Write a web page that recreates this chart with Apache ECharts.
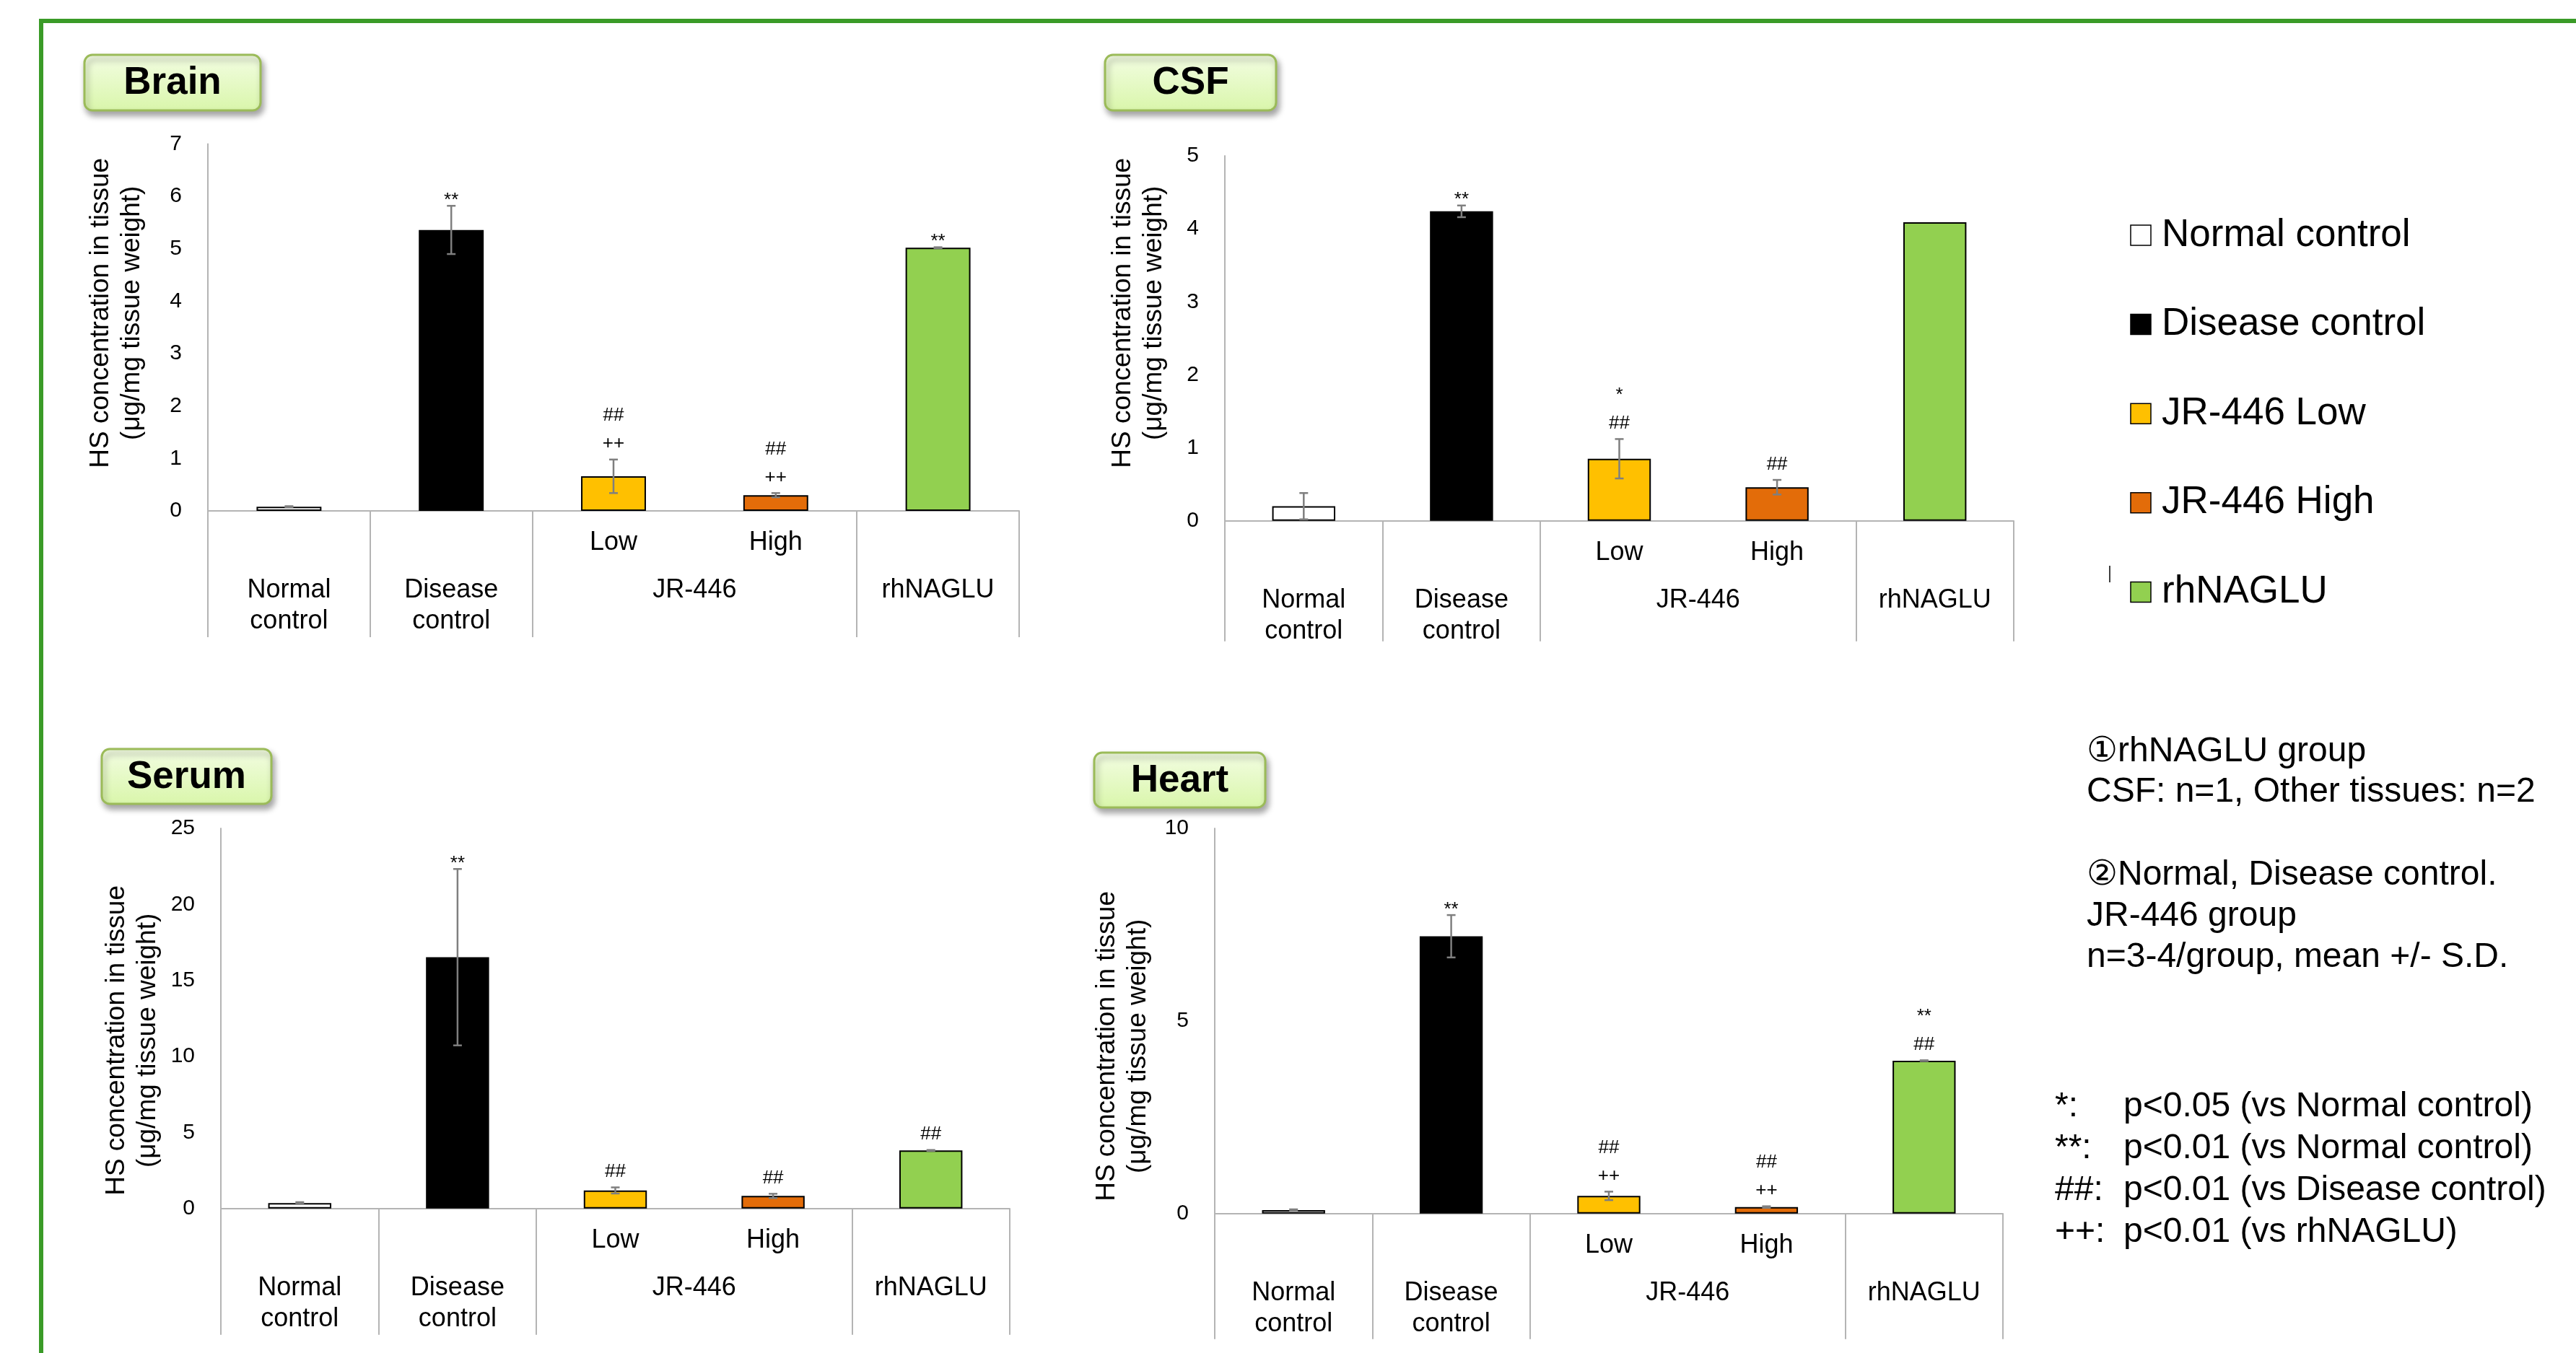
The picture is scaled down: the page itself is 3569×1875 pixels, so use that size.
<!DOCTYPE html>
<html><head><meta charset="utf-8">
<script src="https://cdn.jsdelivr.net/npm/echarts@6/dist/echarts.min.js"></script>
<style>html,body{margin:0;padding:0;background:#fff}#c{width:3569px;height:1875px}</style>
</head><body><div id="c"></div><script>
// ---------- DATA ----------
const categories = ['Normal control', 'Disease control', 'JR-446 Low', 'JR-446 High', 'rhNAGLU'];
const row1Labels = ['', '', 'Low', 'High', ''];
const groupLabels = ['Normal\ncontrol', 'Disease\ncontrol', 'JR-446', 'rhNAGLU'];
const groupSpans = [[0, 0], [1, 1], [2, 3], [4, 4]];
const barColors = ['#FFFFFF', '#000000', '#FFC000', '#E36C09', '#92D050'];

const brainMean = [0.08, 5.36, 0.66, 0.30, 5.02];
const brainSD   = [0.01, 0.46, 0.32, 0.04, 0.01];
const brainMarks = ['', '**', '##\n++', '##\n++', '**'];
const brainYTicks = [0, 1, 2, 3, 4, 5, 6, 7];

const csfMean = [0.20, 4.24, 0.85, 0.46, 4.09];
const csfSD   = [0.18, 0.08, 0.27, 0.10, 0];
const csfMarks = ['', '**', '*\n##', '##', ''];
const csfYTicks = [0, 1, 2, 3, 4, 5];

const serumMean = [0.36, 16.53, 1.19, 0.83, 3.82];
const serumSD   = [0.06, 5.80, 0.20, 0.14, 0.03];
const serumMarks = ['', '**', '##', '##', '##'];
const serumYTicks = [0, 5, 10, 15, 20, 25];

const heartMean = [0.09, 7.20, 0.46, 0.17, 3.97];
const heartSD   = [0.02, 0.55, 0.11, 0.02, 0.01];
const heartMarks = ['', '**', '##\n++', '##\n++', '**\n##'];
const heartYTicks = [0, 5, 10];

const yAxisName = 'HS concentration in tissue\n(\u03bcg/mg tissue weight)';
const legendNames = categories;
const notesTop = ['\u2460rhNAGLU group', 'CSF: n=1, Other tissues: n=2', '\u2461Normal, Disease control.', 'JR-446 group', 'n=3-4/group, mean +/- S.D.'];
const sigSymbols = ['*:', '**:', '##:', '++:'];
const sigTexts = ['p<0.05 (vs Normal control)', 'p<0.01 (vs Normal control)', 'p<0.01 (vs Disease control)', 'p<0.01 (vs rhNAGLU)'];

// ---------- LAYOUT ----------
const FONT = '"Liberation Sans", Arial, Helvetica, sans-serif';
const panels = [
  {title: 'Brain', mean: brainMean, sd: brainSD, marks: brainMarks, ticks: brainYTicks,
   grid: {left: 288, top: 199.5, width: 1124, height: 508.5}, sepLen: 175, nameGap: 84, namePad: [0, 0, 0, 40],
   box: {x: 117, y: 76, w: 244, h: 77}},
  {title: 'CSF', mean: csfMean, sd: csfSD, marks: csfMarks, ticks: csfYTicks,
   grid: {left: 1697, top: 216, width: 1093, height: 505.7}, sepLen: 167, nameGap: 77, namePad: [0, 0, 0, 70],
   box: {x: 1531, y: 76, w: 237, h: 77}},
  {title: 'Serum', mean: serumMean, sd: serumSD, marks: serumMarks, ticks: serumYTicks,
   grid: {left: 306, top: 1148, width: 1093, height: 526.8}, sepLen: 175, nameGap: 80, namePad: [0, 61, 0, 0],
   box: {x: 141, y: 1038, w: 235, h: 76}},
  {title: 'Heart', mean: heartMean, sd: heartSD, marks: heartMarks, ticks: heartYTicks,
   grid: {left: 1683, top: 1148, width: 1092, height: 533.8}, sepLen: 174, nameGap: 85, namePad: [0, 70, 0, 0],
   box: {x: 1516, y: 1043, w: 237, h: 76}}
];

const groupCenters = groupSpans.map(s => (s[0] + s[1]) / 2);
const groupBounds = [groupSpans[0][0] - 0.5].concat(groupSpans.map(s => s[1] + 0.5));

const grids = [], xAxes = [], yAxes = [], series = [], graphics = [];

function errRender(p) {
  return function (params, api) {
    const i = api.value(0), m = api.value(1), s = api.value(2);
    const hi = api.coord([i, m + s]);
    const lo = api.coord([i, m - s]);
    const children = [];
    const cap = 6;
    const ls = {stroke: '#7f7f7f', lineWidth: 2.5};
    if (s > 0) {
      children.push({type: 'line', shape: {x1: hi[0], y1: hi[1], x2: lo[0], y2: lo[1]}, style: ls});
      children.push({type: 'line', shape: {x1: hi[0] - cap, y1: hi[1], x2: hi[0] + cap, y2: hi[1]}, style: ls});
      children.push({type: 'line', shape: {x1: lo[0] - cap, y1: lo[1], x2: lo[0] + cap, y2: lo[1]}, style: ls});
    }
    const t = p.marks[params.dataIndex];
    if (t) {
      const lines = t.split('\n');
      const last = lines[lines.length - 1];
      const off = last.charAt(0) === '*' ? 12 : -2;
      children.push({type: 'text', style: {text: t, x: hi[0], y: hi[1] + off, align: 'center', verticalAlign: 'bottom',
        fontSize: 26, lineHeight: 39, fontFamily: FONT, fill: '#000'}});
    }
    return {type: 'group', children: children};
  };
}

panels.forEach((p, g) => {
  grids.push(Object.assign({outerBoundsMode: 'none', containLabel: false}, p.grid));
  xAxes.push({
    type: 'category', gridIndex: g, data: categories,
    axisLine: {show: true, onZero: false, lineStyle: {color: '#b4b4b4', width: 2}},
    axisTick: {show: false},
    axisLabel: {interval: 0, margin: 23, fontSize: 36, lineHeight: 43, color: '#000', fontFamily: FONT,
      formatter: (v, idx) => row1Labels[idx]},
    splitLine: {show: false}
  });
  xAxes.push({
    type: 'value', gridIndex: g, position: 'bottom',
    min: groupBounds[0], max: groupBounds[groupBounds.length - 1],
    axisLine: {show: false, onZero: false},
    axisTick: {show: true, inside: false, length: p.sepLen, customValues: groupBounds,
      lineStyle: {color: '#b4b4b4', width: 2}},
    axisLabel: {show: true, margin: 89, fontSize: 36, lineHeight: 43, color: '#000', fontFamily: FONT,
      customValues: groupCenters, verticalAlign: 'top',
      formatter: (v) => {
        for (let k = 0; k < groupCenters.length; k++) if (Math.abs(groupCenters[k] - v) < 1e-6) return groupLabels[k];
        return '';
      }},
    splitLine: {show: false}
  });
  const t = p.ticks;
  yAxes.push({
    type: 'value', gridIndex: g, min: t[0], max: t[t.length - 1], interval: t[1] - t[0],
    axisLine: {show: true, onZero: false, lineStyle: {color: '#b4b4b4', width: 2}},
    axisTick: {show: false},
    splitLine: {show: false},
    axisLabel: {fontSize: 30, margin: 36, color: '#000', fontFamily: FONT},
    name: yAxisName, nameLocation: 'middle', nameGap: p.nameGap,
    nameTextStyle: {fontSize: 37, lineHeight: 43, color: '#000', fontFamily: FONT, padding: p.namePad}
  });
  series.push({
    type: 'bar', xAxisIndex: 2 * g, yAxisIndex: g, barWidth: '40%',
    data: p.mean.map((v, i) => ({value: v, itemStyle: {color: barColors[i], borderColor: '#000', borderWidth: 2}})),
    z: 2
  });
  series.push({
    type: 'custom', xAxisIndex: 2 * g, yAxisIndex: g, renderItem: errRender(p),
    data: p.mean.map((v, i) => [i, v, p.sd[i]]), encode: {x: 0, y: 1}, clip: false, z: 5
  });
  // title box
  graphics.push({
    type: 'group', children: [
      {type: 'rect', shape: {x: p.box.x, y: p.box.y, width: p.box.w, height: p.box.h, r: 11},
       style: {fill: {type: 'linear', x: 0, y: 0, x2: 0, y2: 1, colorStops: [{offset: 0, color: '#f3fde3'}, {offset: 1, color: '#d9f6aa'}]},
         stroke: '#9bbb59', lineWidth: 3, shadowBlur: 8, shadowOffsetX: 3, shadowOffsetY: 6, shadowColor: 'rgba(0,0,0,0.35)'}},
      {type: 'text', style: {text: p.title, x: p.box.x + p.box.w / 2, y: p.box.y + p.box.h / 2 + 1, align: 'center', verticalAlign: 'middle',
        fontSize: 53, fontWeight: 'bold', fontFamily: FONT, fill: '#000'}}
    ]
  });
});

// outer green frame
graphics.push({type: 'rect', shape: {x: 57, y: 29, width: 3600, height: 1950}, style: {fill: 'none', stroke: '#3a9b27', lineWidth: 6}, z: 0});

// legend
const legX = 2952, legY0 = 326, legStep = 123.6;
legendNames.forEach((n, i) => {
  const cy = legY0 + i * legStep;
  graphics.push({type: 'rect', shape: {x: legX, y: cy - 14, width: 28, height: 28}, style: {fill: barColors[i], stroke: '#000', lineWidth: 1.5}});
  graphics.push({type: 'text', style: {text: n, x: legX + 43, y: cy, verticalAlign: 'middle', fontSize: 53, fontFamily: FONT, fill: '#000'}});
});
graphics.push({type: 'line', shape: {x1: 2923, y1: 784, x2: 2923, y2: 807}, style: {stroke: '#000', lineWidth: 1.5}});

// notes
const noteY = [1042, 1098, 1212.5, 1270, 1327];
notesTop.forEach((s, i) => {
  graphics.push({type: 'text', style: {text: s, x: 2891, y: noteY[i], verticalAlign: 'middle', fontSize: 48, fontFamily: FONT, fill: '#000'}});
});
const sigY0 = 1534, sigStep = 57.8;
sigSymbols.forEach((s, i) => {
  const y = sigY0 + i * sigStep;
  graphics.push({type: 'text', style: {text: s, x: 2847, y: y, verticalAlign: 'middle', fontSize: 48, fontFamily: FONT, fill: '#000'}});
  graphics.push({type: 'text', style: {text: sigTexts[i], x: 2942, y: y, verticalAlign: 'middle', fontSize: 48, fontFamily: FONT, fill: '#000'}});
});

const chart = echarts.init(document.getElementById('c'), null, {renderer: 'canvas'});
chart.setOption({
  backgroundColor: '#ffffff',
  animation: false,
  textStyle: {fontFamily: FONT},
  grid: grids, xAxis: xAxes, yAxis: yAxes, series: series,
  graphic: {elements: graphics}
});
</script></body></html>
